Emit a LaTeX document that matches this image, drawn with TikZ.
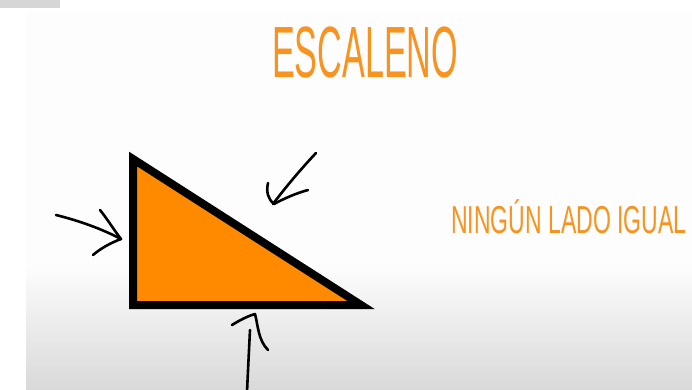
\documentclass[tikz,border=0pt]{standalone}
\usepackage{fontspec}
\newfontfamily\titlefont[FakeStretch=0.47]{Liberation Sans}
\newfontfamily\subfont[FakeStretch=0.59]{Liberation Sans}
\definecolor{txtorange}{HTML}{F7931E}
\definecolor{triorange}{HTML}{FF8A00}
\definecolor{bargray}{HTML}{D6D6D6}
\definecolor{panel}{HTML}{FDFDFD}
\definecolor{floor}{HTML}{D9D9D9}
\tikzset{
  hand/.style={draw=black, line width=2.6pt, line cap=round, line join=round},
}
\begin{document}
\begin{tikzpicture}[x=1pt,y=-1pt]
\useasboundingbox (0,0) rectangle (692,389);
\fill[white] (0,0) rectangle (692,389);
% panel
\fill[panel] (26,10) rectangle (692,389);
\shade[top color=panel, bottom color=floor] (26,265) rectangle (692,389);
\fill[bargray] (0,0) rectangle (60,8);
% title
\node[anchor=base west, inner sep=0pt, text=txtorange, font=\titlefont\fontsize{72.6}{72.6}\selectfont] (title) at (272,77) {ESCALENO};
\node[anchor=base west, inner sep=0pt, text=txtorange, font=\subfont\fontsize{39}{39}\selectfont] (desc) at (451,233) {NINGÚN LADO IGUAL};
% triangle
\coordinate (A) at (133,159);
\coordinate (B) at (133,305);
\coordinate (C) at (361,305);
\draw[fill=triorange, draw=black, line width=8pt, line join=miter] (A) -- (B) -- (C) -- cycle;
% left arrow
\draw[hand] (56,215) .. controls (80,221) and (102,229) .. (121,239);
\draw[hand] (100,210) .. controls (108,220) and (114,230) .. (121,239) .. controls (110,243) and (100,249) .. (93,255);
% top-right arrow
\draw[hand] (316,153) .. controls (300,170) and (285,188) .. (273,204);
\draw[hand] (268,183) .. controls (266,192) and (268,199) .. (274,204) .. controls (285,198) and (297,193) .. (308,190);
% bottom arrow
\draw[hand] (250,330) .. controls (249,350) and (248,370) .. (247,392);
\draw[hand] (232,325) .. controls (240,320) and (248,316) .. (255,314) .. controls (258,325) and (258,340) .. (268,350);
\end{tikzpicture}
\end{document}
